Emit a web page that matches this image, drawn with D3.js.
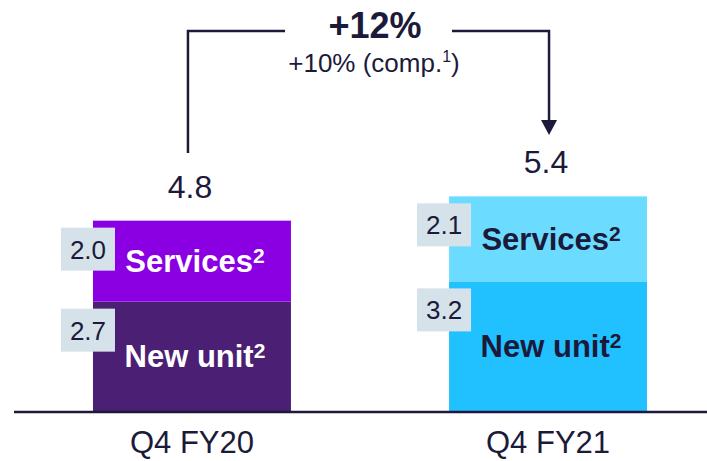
<!DOCTYPE html>
<html><head><meta charset="utf-8">
<script src="https://cdn.jsdelivr.net/npm/d3@7"></script>
<style>body{margin:0;background:#fff}svg{display:block;font-family:Arial,"Liberation Sans",sans-serif}</style>
</head><body><svg id="c" width="707" height="461"></svg>
<script>
const categories = ["Q4 FY20", "Q4 FY21"];
const segments = ["New unit", "Services"];
const newUnit = [2.7, 3.2];
const services = [2.0, 2.1];
const totals = ["4.8", "5.4"];
const growthMain = "+12%";
const growthSub = "+10% (comp.";

const fills = {
  "Q4 FY20": {"New unit": "#4b1f73", "Services": "#8a00e2"},
  "Q4 FY21": {"New unit": "#21c1ff", "Services": "#6bdcff"}
};
const labelColor = {"Q4 FY20": "#ffffff", "Q4 FY21": "#1c1a3a"};
const dark = "#1c1a3a";

const svg = d3.select("#c");
const x = d3.scaleBand().domain(categories).range([15, 725]).paddingInner(0.444).paddingOuter(0.219);
const y = d3.scaleLinear().domain([0, 5.5]).range([411, 188.25]);

const rows = categories.map((c, i) => ({cat: c, "New unit": newUnit[i], "Services": services[i]}));
const stack = d3.stack().keys(segments)(rows);

const g = svg.append("g");
stack.forEach(layer => {
  layer.forEach((d, i) => {
    const cat = categories[i];
    const x0 = x(cat), bw = x.bandwidth();
    const top = y(d[1]), bot = y(d[0]);
    g.append("rect").attr("x", x0).attr("y", top).attr("width", bw).attr("height", bot - top)
      .attr("fill", fills[cat][layer.key]);
    // segment label
    const t = g.append("text").attr("x", x0 + bw / 2 + 3).attr("y", (top + bot) / 2 + 11)
      .attr("text-anchor", "middle").attr("font-size", 31).attr("font-weight", "bold")
      .attr("fill", labelColor[cat]);
    t.append("tspan").text(layer.key);
    t.append("tspan").text("2").attr("font-size", 21).attr("dy", -9);
    // value box
    const bx = x0 - 32, by = top + 7;
    g.append("rect").attr("x", bx).attr("y", by).attr("width", 54).attr("height", 43).attr("fill", "#d6e2ea");
    g.append("text").attr("x", bx + 27).attr("y", by + 31).attr("text-anchor", "middle")
      .attr("font-size", 26).attr("fill", dark).text(d3.format(".1f")(d.data[layer.key]));
  });
});

// totals
categories.forEach((c, i) => {
  svg.append("text").attr("x", x(c) + x.bandwidth() / 2 - 2).attr("y", y(newUnit[i] + services[i]) - 23)
    .attr("text-anchor", "middle").attr("font-size", 32).attr("fill", dark).text(totals[i]);
});

// baseline axis
svg.append("line").attr("x1", 14).attr("x2", 707).attr("y1", 412).attr("y2", 412)
  .attr("stroke", dark).attr("stroke-width", 2.5);

// category axis labels
const xAxis = d3.axisBottom(x).tickSize(0).tickPadding(0);
const ax = svg.append("g").attr("transform", "translate(0,412)").call(xAxis);
ax.select(".domain").remove();
ax.selectAll("text").attr("font-size", 31).attr("fill", dark).attr("dy", 0).attr("y", 41)
  .style("font-family", "Arial, 'Liberation Sans', sans-serif");

// growth bracket
const lx = x(categories[0]) + x.bandwidth() / 2 - 4;
const rx = x(categories[1]) + x.bandwidth() / 2 + 1;
const topY = 31;
const br = svg.append("g").attr("fill", "none").attr("stroke", dark).attr("stroke-width", 2.5);
br.append("path").attr("d", `M${lx},153 V${topY} H285`);
br.append("path").attr("d", `M452,${topY} H${rx} V121`);
svg.append("path").attr("d", `M${rx - 8},120 L${rx + 8},120 L${rx},135 Z`).attr("fill", dark);

svg.append("text").attr("x", 375).attr("y", 38).attr("text-anchor", "middle")
  .attr("font-size", 36).attr("font-weight", "bold").attr("fill", dark).text(growthMain);
const st = svg.append("text").attr("x", 374).attr("y", 72).attr("text-anchor", "middle")
  .attr("font-size", 26).attr("fill", dark);
st.append("tspan").text(growthSub);
st.append("tspan").text("1").attr("font-size", 16).attr("dy", -10);
st.append("tspan").text(")").attr("dy", 10);
</script></body></html>
